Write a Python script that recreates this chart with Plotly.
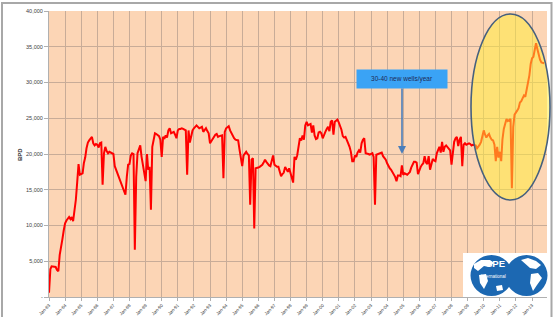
import pandas as pd
import plotly.graph_objects as go

# Monthly oil production (BPD), Jan-1983 onwards
bpd_1983_1992 = [
    600, 3900, 4300, 4300, 4250, 4200, 3800, 3600, 5900, 7300, 8100, 9300,            # 1983
    10300, 10700, 10900, 11200, 10900, 11200, 10600, 12100, 13600, 16000, 18600, 17100,  # 1984
    17200, 17300, 18700, 19500, 20800, 21600, 21900, 22100, 22400, 21500, 21200, 21400,  # 1985
    21300, 20900, 21500, 21600, 15700, 20100, 21000, 20400, 20100, 20300, 20200, 20100,  # 1986
    20000, 18300, 17800, 17400, 16900, 16400, 15900, 15300, 14800, 14300, 16800, 18500,  # 1987
    18600, 19800, 20100, 20000, 6600, 16800, 20100, 20800, 21200, 19600, 18500, 17000,   # 1988
    16200, 20000, 17800, 18200, 12200, 21000, 22200, 22900, 22800, 22700, 22500, 22000,  # 1989
    19600, 22400, 22100, 22600, 22300, 23300, 23600, 22900, 23000, 23100, 22700, 22200,  # 1990
    23300, 23500, 23500, 23600, 23500, 23400, 23300, 17100, 23300, 21600, 22800, 23300,  # 1991
    23600, 23800, 24000, 23800, 23600, 23700, 23800, 23100, 23400, 23600, 23200, 22900,  # 1992
]
bpd_1993_2002 = [
    21500, 21800, 22000, 22300, 22700, 22800, 22400, 22500, 22600, 22600, 16600, 23100,  # 1993
    23600, 23800, 23900, 23300, 22900, 22400, 22200, 22000, 21960, 21900, 20600, 19500,  # 1994
    18300, 19800, 20100, 20300, 20000, 19800, 12900, 19200, 19400, 9600, 18000, 18000,   # 1995
    18100, 18200, 18300, 18500, 18800, 19200, 18900, 18600, 18400, 18300, 18900, 19800,  # 1996
    18500, 18300, 18200, 18200, 17700, 16900, 17200, 17400, 18200, 17900, 17500, 18000,  # 1997
    17400, 16800, 16000, 19600, 19200, 19800, 21200, 22200, 21900, 22600, 22000, 24000,  # 1998
    24500, 24000, 24100, 24200, 23000, 24000, 22600, 22100, 22200, 23000, 23100, 22900,  # 1999
    22200, 22800, 23100, 23500, 23800, 23200, 24500, 24700, 22700, 24500, 24600, 24800,  # 2000
    24400, 24000, 23400, 22500, 22300, 22400, 21800, 21500, 21000, 20300, 19000, 19000,  # 2001
    19800, 19600, 20200, 20500, 20200, 21500, 22000, 22200, 20100, 20100, 20000, 19900,  # 2002
]
bpd_2003_2013 = [
    20000, 20100, 19600, 12900, 19900, 20000, 20100, 20100, 20200, 19700, 19400, 19200,  # 2003
    18700, 18200, 18000, 17800, 17500, 17300, 16800, 16200, 17000, 17000, 16900, 18400,  # 2004
    17100, 17300, 17200, 17100, 17300, 17500, 18100, 18600, 18900, 18900, 18800, 17200,  # 2005
    17800, 18200, 18500, 18700, 19700, 18800, 18600, 19700, 17800, 18800, 19300, 19100,  # 2006
    19000, 20100, 20600, 21000, 20200, 21700, 20300, 21000, 21200, 21000, 20800, 20500,  # 2007
    18500, 20800, 21700, 22200, 22400, 21100, 22000, 22400, 18300, 21300, 21500, 21300,  # 2008
    21400, 21500, 21400, 21200, 21300, 21300, 21200, 20800, 21000, 21300, 21700, 22600,  # 2009
    23300, 22700, 22300, 22600, 22800, 22300, 22000, 21900, 21300, 19000, 21000, 19500,  # 2010
    20300, 19000, 22000, 23500, 24200, 24900, 24600, 24800, 24900, 15200, 23800, 25500,  # 2011
    25900, 26100, 26400, 27200, 27400, 27900, 28200, 28000, 29100, 29700, 31000, 32600,  # 2012
    33400, 33600, 34300, 35500, 34700, 33800, 33200, 32800, 32700, 32700,                # 2013
]
bpd = bpd_1983_1992 + bpd_1993_2002 + bpd_2003_2013
start_month = "1983-01-01"
y_tick_values = [0, 5000, 10000, 15000, 20000, 25000, 30000, 35000, 40000]
y_tick_labels = ["-", "5,000", "10,000", "15,000", "20,000", "25,000", "30,000", "35,000", "40,000"]
annotation_text = "30-40 new wells/year"

dates = pd.date_range(start_month, periods=len(bpd), freq="MS")

W, H = 557, 317
L, R, T, B = 49, 10, 11, 20
PW, PH = W - L - R, H - T - B


def px(x):
    return (x - L) / PW


def py(y):
    return (H - B - y) / PH


fig = go.Figure()
fig.add_trace(go.Scatter(x=dates, y=bpd, mode="lines",
                         line=dict(color="#FF0000", width=2), hoverinfo="x+y"))

shapes = []
# outer frame
shapes.append(dict(type="rect", xref="paper", yref="paper", x0=px(2), x1=px(551.5),
                   y0=py(318), y1=py(3), line=dict(color="#A8A8A8", width=2),
                   fillcolor="rgba(0,0,0,0)", layer="below"))
# highlight ellipse
shapes.append(dict(type="circle", xref="paper", yref="paper", x0=px(471), x1=px(550),
                   y0=py(200), y1=py(14), fillcolor="rgba(255,236,60,0.52)",
                   line=dict(color="#46607E", width=1.6), layer="above"))
# SPE logo
shapes.append(dict(type="rect", xref="paper", yref="paper", x0=px(463), x1=px(547),
                   y0=py(297), y1=py(253), fillcolor="white", line=dict(width=0), layer="above"))
for cx in (491.5, 526.5):
    shapes.append(dict(type="circle", xref="paper", yref="paper", x0=px(cx - 21), x1=px(cx + 21),
                       y0=py(296), y1=py(255), fillcolor="#1C68B2", line=dict(width=0), layer="above"))


def blob(points):
    d = "M " + " L ".join(f"{px(a):.5f},{py(b):.5f}" for a, b in points) + " Z"
    return dict(type="path", xref="paper", yref="paper", path=d, fillcolor="white",
                line=dict(width=0), layer="above")


shapes.append(blob([(474, 264), (481, 260), (490, 260), (494, 263), (489, 267), (484, 266), (478, 271), (474, 268)]))
shapes.append(blob([(479, 275), (486, 274), (488, 281), (484, 289), (480, 283)]))
shapes.append(blob([(496, 286), (502, 285), (503, 290), (497, 291)]))
shapes.append(blob([(521, 260), (528, 258), (536, 261), (541, 265), (536, 269), (530, 268)]))
shapes.append(blob([(531, 274), (538, 273), (542, 278), (537, 285), (533, 291), (530, 283)]))

annotations = [
    dict(text=annotation_text, xref="paper", yref="paper", x=px(402), y=py(154),
         ax=0, ay=-75, showarrow=True, arrowhead=2, arrowsize=1, arrowwidth=1.6,
         arrowcolor="#4A7EBB", bgcolor="#3AA3F5", width=86, height=14, borderpad=2,
         font=dict(size=6.5, color="#1F2A55", family="Liberation Sans")),
    dict(text="<b>SPE</b>", xref="paper", yref="paper", x=px(507), y=py(271),
         showarrow=False, font=dict(size=9.5, color="white", family="Liberation Sans")),
    dict(text="International", xref="paper", yref="paper", x=px(508), y=py(280.5),
         showarrow=False, font=dict(size=4.5, color="white", family="Liberation Sans")),
    dict(text="<b>BPD</b>", xref="paper", yref="paper", x=px(15), y=py(155),
         showarrow=False, textangle=-90, font=dict(size=6, color="#303030", family="Liberation Sans")),
]

fig.update_layout(
    width=W, height=H,
    margin=dict(l=L, r=R, t=T, b=B, pad=0, autoexpand=False),
    paper_bgcolor="white", plot_bgcolor="#FCD5B5",
    showlegend=False,
    shapes=shapes, annotations=annotations,
    font=dict(family="Liberation Sans", color="#404040"),
    xaxis=dict(type="date", range=["1983-01-01", "2013-12-06"], tick0="1983-01-01", dtick="M12",
               tickformat="%b-%y", tickangle=-45, tickfont=dict(size=4.5), automargin=False,
               showgrid=True, gridcolor="#C8AC98", gridwidth=1,
               showline=True, linecolor="#B0B0B0", ticks="outside", ticklen=3, tickcolor="#B0B0B0"),
    yaxis=dict(range=[0, 40000], tickvals=y_tick_values, ticktext=y_tick_labels, automargin=False,
               tickfont=dict(size=5.5), showgrid=True, gridcolor="#C8AC98", gridwidth=1,
               zeroline=False, showline=True, linecolor="#B0B0B0", ticks="outside", ticklen=4,
               tickcolor="#B0B0B0"),
)

fig.write_html("out.html", config={"displayModeBar": False},
               post_script="document.body.style.margin='0';document.body.style.overflow='hidden';")
